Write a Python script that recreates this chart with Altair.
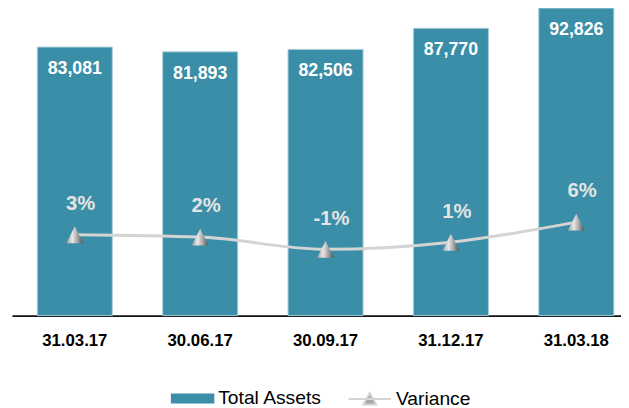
import altair as alt
import pandas as pd

# ---- data ----
dates = ["31.03.17", "30.06.17", "30.09.17", "31.12.17", "31.03.18"]
total_assets = [83081, 81893, 82506, 87770, 92826]
variance = [0.028, 0.022, -0.009, 0.009, 0.060]
series_names = ["Total Assets", "Variance"]

TEAL = "#3a8ea7"
LINE_GREY = "#d4d4d4"
FONT = "Liberation Sans"
Y_MIN = 16000

df = pd.DataFrame({"date": dates, "assets": total_assets, "variance": variance})

RECT_PATH = "M-1,-0.227H1V0.227H-1Z"
LINE_TRI_PATH = "M-1,0H1M0,-0.28L0.3,0.26H-0.3Z"
TRI_PATH = "M0,-1L1,1H-1Z"

x = alt.X(
    "date:N",
    sort=dates,
    scale=alt.Scale(paddingInner=0.4016, paddingOuter=0.1297, align=0.779),
    axis=alt.Axis(
        title=None, labelAngle=0, ticks=False, tickSize=0, grid=False,
        domainColor="#111111", domainWidth=1.6,
        labelFont=FONT, labelFontSize=17, labelFontWeight="bold",
        labelColor="#000000", labelPadding=17,
    ),
)

base = alt.Chart(df)

y_assets = alt.Y("assets:Q", scale=alt.Scale(domain=[Y_MIN, 92200], nice=False, zero=False), axis=None)

bars = base.transform_calculate(series=f"'{series_names[0]}'").mark_bar(
    stroke="#a7cbd8", strokeWidth=1
).encode(
    x=x,
    y=y_assets,
    y2=alt.datum(Y_MIN),
    fill=alt.Fill(
        "series:N",
        scale=alt.Scale(range=[TEAL]),
        legend=alt.Legend(
            title=None, orient="none", legendX=161, legendY=371,
            symbolType=RECT_PATH, symbolSize=1936, symbolStrokeWidth=0,
            symbolStrokeColor=TEAL,
            labelFont=FONT, labelFontSize=19.5, labelColor="#000000", labelOffset=4,
        ),
    ),
)

bar_text = base.mark_text(
    color="white", font=FONT, fontWeight="bold", fontSize=18, baseline="alphabetic", dy=27
).encode(x=x, y=y_assets, text=alt.Text("assets:Q", format=",d"))

y_var = alt.Y("variance:Q", scale=alt.Scale(domain=[-0.177, 0.596], nice=False, zero=False), axis=None)

line = base.transform_calculate(series=f"'{series_names[1]}'").mark_line(
    interpolate="monotone", strokeWidth=3
).encode(
    x=x,
    y=y_var,
    stroke=alt.Stroke(
        "series:N",
        scale=alt.Scale(range=[LINE_GREY]),
        legend=alt.Legend(
            title=None, orient="none", legendX=340, legendY=371,
            symbolType=LINE_TRI_PATH, symbolSize=1849,
            symbolFillColor="#a6a6a6", symbolStrokeWidth=2,
            labelFont=FONT, labelFontSize=19.5, labelColor="#000000", labelOffset=4,
        ),
    ),
)

gradient = {
    "gradient": "linear", "x1": 0, "y1": 0, "x2": 1, "y2": 0,
    "stops": [
        {"offset": 0, "color": "#9c9c9c"},
        {"offset": 0.35, "color": "#e8e8e8"},
        {"offset": 0.65, "color": "#a8a8a8"},
        {"offset": 1, "color": "#4a4a4a"},
    ],
}

points = base.mark_point(
    shape=TRI_PATH, size=290, filled=True, fill=gradient, opacity=1, strokeWidth=0
).encode(x=x, y=y_var)

pct_text = base.transform_calculate(pct="round(datum.variance*100) + '%'").mark_text(
    color="#e4e4e4", font=FONT, fontWeight="bold", fontSize=20.5, baseline="middle", dx=6, dy=-31
).encode(x=x, y=y_var, text="pct:N")

chart = alt.layer(
    alt.layer(bars, bar_text),
    alt.layer(line, points, pct_text),
).resolve_scale(y="independent").properties(
    width=617, height=309,
    padding={"left": 4, "top": 0, "right": 0, "bottom": 95},
    autosize=alt.AutoSizeParams(type="none"),
).configure_view(stroke=None)

chart.save("out.html", embed_options={"renderer": "svg", "actions": False})
